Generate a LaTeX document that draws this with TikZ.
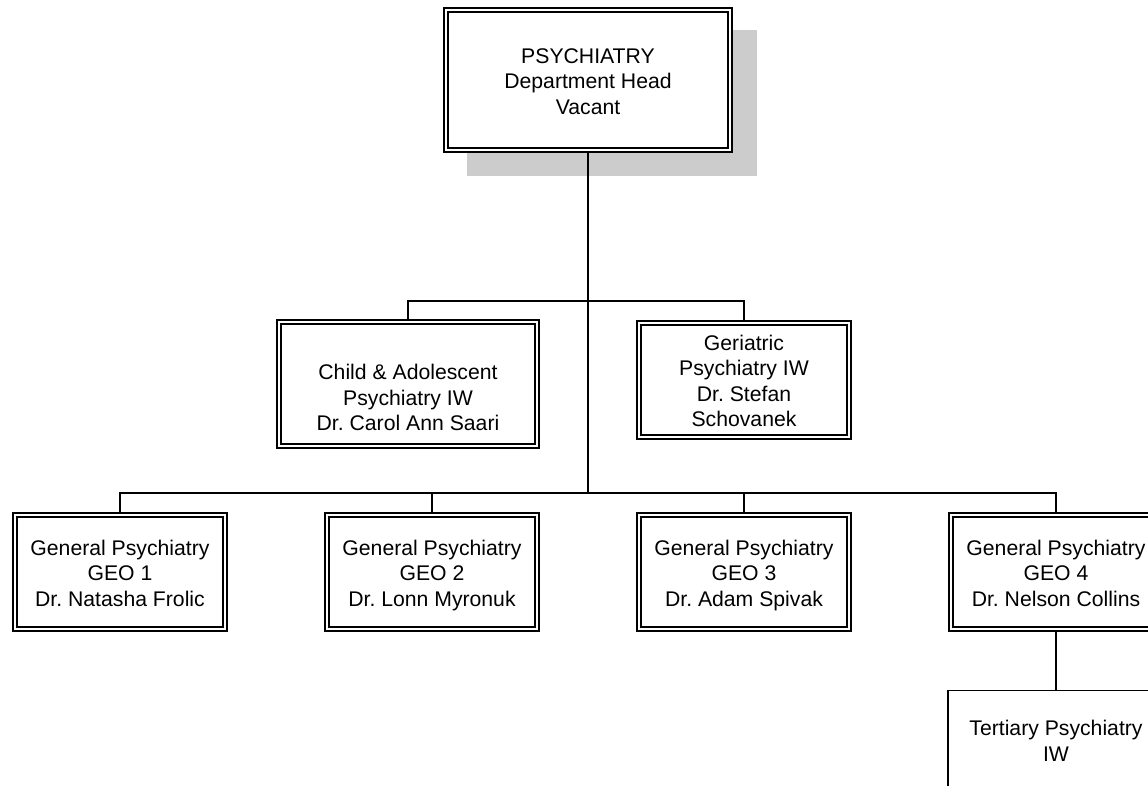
\documentclass[tikz,border=0pt]{standalone}
\usepackage{fontspec}
\setmainfont{Liberation Sans}
\usetikzlibrary{backgrounds}
\newcommand{\toprow}{\rule{0pt}{25pt}}
\newcommand{\botrow}{\rule[-7.65pt]{0pt}{7.65pt}}
\newcommand{\bt}[1]{\begin{tabular}{@{}c@{}}\toprow#1\botrow\end{tabular}}
\begin{document}
\frenchspacing
\begin{tikzpicture}[x=1pt,y=-1pt,
  txt/.style={inner sep=0pt, font=\fontsize{21.2}{25.5}\selectfont\frenchspacing},
  unit/.style={txt, draw=black, fill=white, double=white, double distance=2.5pt, line width=1.6pt},
  plainunit/.style={txt, draw=black, fill=white, line width=1.6pt},
  conn/.style={draw=black, line width=1.5pt}]
\useasboundingbox (0,0) rectangle (1148,786);
\clip (0,0) rectangle (1148,786);
\node[unit, minimum width=284pt, minimum height=140pt] (top) at (588,80) {\bt{PSYCHIATRY\\Department Head\\Vacant}};
\node[unit, minimum width=258pt, minimum height=124pt] (child) at (408,384) {\bt{\\Child \& Adolescent\\Psychiatry IW\\Dr. Carol Ann Saari}};
\node[unit, minimum width=210pt, minimum height=114pt] (geri) at (744,380) {\bt{Geriatric\\Psychiatry IW\\Dr. Stefan\\Schovanek}};
\node[unit, minimum width=210pt, minimum height=114pt] (g1) at (120,572) {\bt{General Psychiatry\\GEO 1\\Dr. Natasha Frolic}};
\node[unit, minimum width=210pt, minimum height=114pt] (g2) at (432,572) {\bt{General Psychiatry\\GEO 2\\Dr. Lonn Myronuk}};
\node[unit, minimum width=210pt, minimum height=114pt] (g3) at (744,572) {\bt{General Psychiatry\\GEO 3\\Dr. Adam Spivak}};
\node[unit, minimum width=210pt, minimum height=114pt] (g4) at (1056,572) {\bt{General Psychiatry\\GEO 4\\Dr. Nelson Collins}};
\node[plainunit, minimum width=216pt, minimum height=99pt] (tert) at (1056,740) {\bt{Tertiary Psychiatry\\IW}};
\coordinate (b1) at (588,301);
\coordinate (b2) at (588,493);
\begin{pgfonlayer}{background}
  \fill[black!20] (467,30) rectangle (757,176);
  \draw[conn] (top.south) -- (b2);
  \draw[conn] (child.north) |- (b1) -| (geri.north);
  \draw[conn] (g1.north) |- (b2) -| (g4.north);
  \draw[conn] (g2.north) -- (g2.north |- b2);
  \draw[conn] (g3.north) -- (g3.north |- b2);
  \draw[conn] (g4.south) -- (tert.north);
\end{pgfonlayer}
\end{tikzpicture}
\end{document}
